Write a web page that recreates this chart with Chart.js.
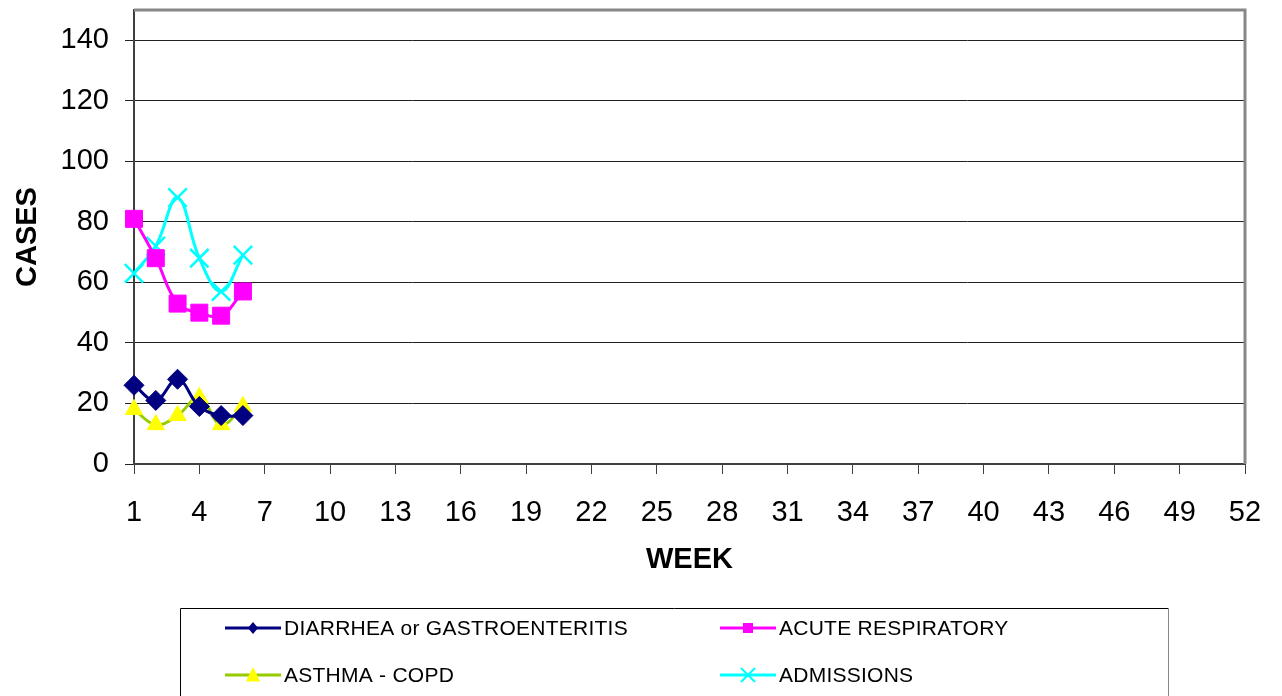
<!DOCTYPE html>
<html>
<head>
<meta charset="utf-8">
<title>Weekly cases</title>
<script src="https://cdn.jsdelivr.net/npm/chart.js@4/dist/chart.umd.min.js"></script>
<style>
  html, body { margin: 0; padding: 0; background: #fff; }
  #wrap { width: 1282px; height: 696px; }
</style>
</head>
<body>
<div id="wrap"><canvas id="cases-chart" width="1282" height="696"></canvas></div>
<script>
const weeks = [1, 2, 3, 4, 5, 6];
const diarrhea = [26, 21, 28, 19, 16, 16];
const acuteResp = [81, 68, 53, 50, 49, 57];
const asthma = [18, 13, 16, 22, 13, 19];
const admissions = [63, 72, 88, 68, 57, 69];

const xTicks = [1, 4, 7, 10, 13, 16, 19, 22, 25, 28, 31, 34, 37, 40, 43, 46, 49, 52];
const yTicks = [0, 20, 40, 60, 80, 100, 120, 140];

const FONT = 'Liberation Sans, Arial, Helvetica, sans-serif';

function pts(vals) {
  return weeks.map((w, i) => ({ x: w, y: vals[i] }));
}

// gray frame on top and right of the plot area
const plotFrame = {
  id: 'plotFrame',
  beforeDatasetsDraw(chart) {
    const a = chart.chartArea;
    const ctx = chart.ctx;
    ctx.save();
    ctx.strokeStyle = '#888888';
    ctx.lineWidth = 3;
    ctx.beginPath();
    ctx.moveTo(a.left, a.top);
    ctx.lineTo(a.right, a.top);
    ctx.lineTo(a.right, a.bottom);
    ctx.stroke();
    ctx.restore();
  }
};

function marker(ctx, style, x, y, r, fill, stroke) {
  ctx.fillStyle = fill;
  ctx.strokeStyle = stroke;
  ctx.beginPath();
  if (style === 'rectRot') {
    ctx.moveTo(x, y - r); ctx.lineTo(x + r * 0.85, y); ctx.lineTo(x, y + r); ctx.lineTo(x - r * 0.85, y);
    ctx.closePath(); ctx.fill();
  } else if (style === 'rect') {
    ctx.rect(x - r, y - r, 2 * r, 2 * r); ctx.fill();
  } else if (style === 'triangle') {
    ctx.moveTo(x, y - r); ctx.lineTo(x + r * 0.9, y + r * 0.8); ctx.lineTo(x - r * 0.9, y + r * 0.8);
    ctx.closePath(); ctx.fill();
  } else if (style === 'crossRot') {
    ctx.lineWidth = 2;
    ctx.moveTo(x - r, y - r); ctx.lineTo(x + r, y + r);
    ctx.moveTo(x + r, y - r); ctx.lineTo(x - r, y + r);
    ctx.stroke();
  }
}

// boxed two-column legend under the chart
const boxLegend = {
  id: 'boxLegend',
  afterDraw(chart) {
    const ctx = chart.ctx;
    ctx.save();
    ctx.lineWidth = 1;
    ctx.strokeStyle = '#000';
    ctx.beginPath();
    ctx.moveTo(180.5, 730); ctx.lineTo(180.5, 608.5); ctx.lineTo(1168.5, 608.5);
    ctx.stroke();
    ctx.strokeStyle = '#888';
    ctx.beginPath();
    ctx.moveTo(1168.5, 608.5); ctx.lineTo(1168.5, 730);
    ctx.stroke();

    const cols = [225, 720];
    const rows = [628, 675];
    chart.data.datasets.forEach((ds, i) => {
      const x = cols[i % 2];
      const y = rows[Math.floor(i / 2)];
      ctx.strokeStyle = ds.borderColor;
      ctx.lineWidth = 3;
      ctx.beginPath();
      ctx.moveTo(x, y); ctx.lineTo(x + 56, y);
      ctx.stroke();
      marker(ctx, ds.pointStyle, x + 28, y, ds.legendMarker,
        ds.pointBackgroundColor, ds.pointBorderColor);
      ctx.fillStyle = '#000';
      ctx.font = '21px ' + FONT;
      ctx.letterSpacing = '0.25px';
      ctx.textBaseline = 'middle';
      ctx.textAlign = 'left';
      ctx.fillText(ds.label, x + 59, y + 1);
    });
    ctx.restore();
  }
};

new Chart(document.getElementById('cases-chart'), {
  type: 'line',
  data: {
    datasets: [{
      label: 'DIARRHEA or GASTROENTERITIS',
      data: pts(diarrhea),
      borderColor: '#000080',
      pointBackgroundColor: '#000080',
      pointBorderColor: '#000080',
      pointStyle: 'rectRot',
      pointRadius: 10,
      legendMarker: 6
    }, {
      label: 'ACUTE RESPIRATORY',
      data: pts(acuteResp),
      borderColor: '#FF00FF',
      pointBackgroundColor: '#FF00FF',
      pointBorderColor: '#FF00FF',
      pointStyle: 'rect',
      pointRadius: 12,
      legendMarker: 5
    }, {
      label: 'ASTHMA - COPD',
      data: pts(asthma),
      borderColor: '#99CC00',
      pointBackgroundColor: '#FFFF00',
      pointBorderColor: '#FFFF00',
      pointStyle: 'triangle',
      pointRadius: 10,
      legendMarker: 8
    }, {
      label: 'ADMISSIONS',
      data: pts(admissions),
      borderColor: '#00FFFF',
      pointBackgroundColor: '#00FFFF',
      pointBorderColor: '#00FFFF',
      pointStyle: 'crossRot',
      pointRadius: 13,
      pointBorderWidth: 2.5,
      legendMarker: 7
    }]
  },
  options: {
    responsive: false,
    animation: false,
    layout: { autoPadding: false, padding: { top: 10, right: 37, bottom: 88, left: 0 } },
    datasets: {
      line: { borderWidth: 3, tension: 0.4, clip: false, pointBorderWidth: 1 }
    },
    plugins: {
      legend: { display: false },
      tooltip: { enabled: false }
    },
    scales: {
      x: {
        type: 'linear',
        min: 1,
        max: 52,
        afterFit(scale) { scale.height = 144; scale.paddingLeft = 0; scale.paddingRight = 0; },
        afterBuildTicks(scale) { scale.ticks = xTicks.map(v => ({ value: v })); },
        grid: { drawOnChartArea: false, drawTicks: true, tickLength: 10, color: '#404040', lineWidth: 1 },
        border: { color: '#404040', width: 2 },
        ticks: { color: '#000', font: { family: FONT, size: 29 }, padding: 22, maxRotation: 0, autoSkip: false },
        title: {
          display: true, text: 'WEEK', color: '#000',
          font: { family: FONT, size: 29, weight: 'bold' },
          padding: { top: 0, bottom: 31 }
        }
      },
      y: {
        min: 0,
        max: 150,
        afterFit(scale) { scale.width = 134; scale.paddingTop = 0; scale.paddingBottom = 0; },
        afterBuildTicks(scale) { scale.ticks = yTicks.map(v => ({ value: v })); },
        grid: { color: '#222', lineWidth: 1, tickLength: 9 },
        border: { color: '#404040', width: 2 },
        ticks: { color: '#000', font: { family: FONT, size: 29 }, padding: 16 },
        title: {
          display: true, text: 'CASES', color: '#000',
          font: { family: FONT, size: 29, weight: 'bold' },
          padding: { top: 11, bottom: 0 }
        }
      }
    }
  },
  plugins: [plotFrame, boxLegend]
});
</script>
</body>
</html>
